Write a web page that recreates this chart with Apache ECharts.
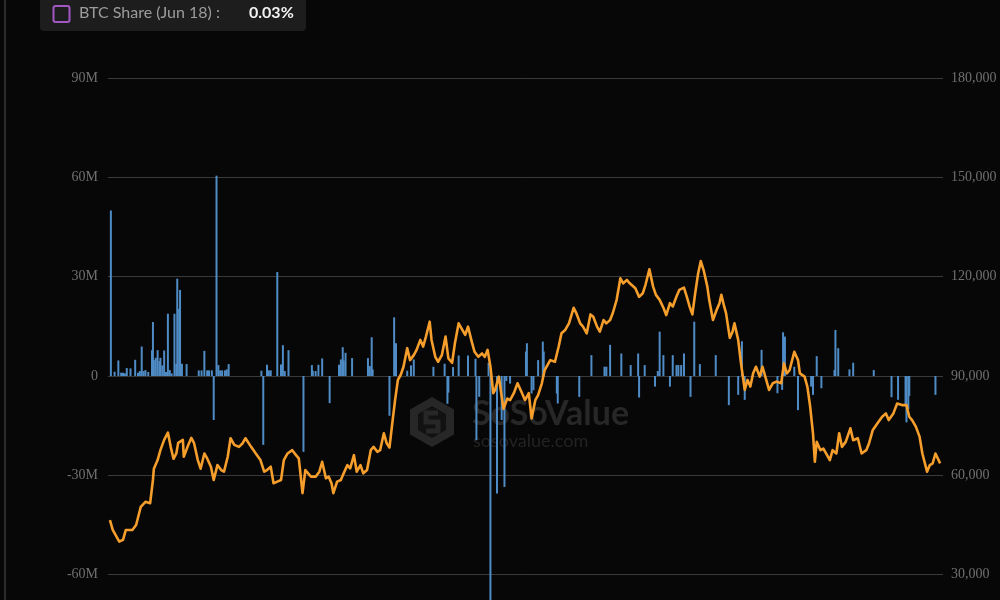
<!DOCTYPE html>
<html>
<head>
<meta charset="utf-8">
<script src="https://cdn.jsdelivr.net/npm/echarts@6/dist/echarts.min.js"></script>
<style>
  html, body { margin: 0; padding: 0; background: #070707; }
  #chart { width: 1000px; height: 600px; }
</style>
</head>
<body>
<div id="chart"></div>
<script>
// ---- data ----
const startDate = '2024-01-10';          // day 0 of the time axis
const endDay = 891;                      // axis end (2026-06-19)
// BTC price (USD), by day offset from startDate
const priceDays = [1,4,11,15,18,25,29,34,39,44,47,48,52,55,59,63,66,69,72,74,79,80,84,88,91,95,98,102,105,109,112,116,120,123,127,130,134,139,143,146,152,157,162,166,169,173,176,180,184,187,191,196,200,203,207,210,216,221,225,228,232,235,238,240,244,248,251,255,258,262,265,269,272,276,280,283,287,290,294,297,300,303,306,309,312,315,319,322,326,329,333,336,339,343,345,349,352,356,360,363,367,370,374,377,381,384,388,391,395,399,402,405,408,411,413,417,419,422,426,429,433,437,441,445,449,452,456,459,463,466,472,477,481,484,488,492,497,500,504,507,511,515,518,522,525,529,532,536,539,543,547,550,554,557,563,567,571,574,578,582,585,589,593,596,600,603,607,610,615,618,621,624,627,630,633,636,640,642,646,650,653,655,658,660,664,667,669,673,676,680,683,686,689,692,696,699,703,706,710,714,719,722,725,728,733,737,739,744,747,750,753,755,757,761,764,767,771,774,778,781,784,788,793,796,801,805,810,813,817,822,827,831,834,839,843,849,853,856,859,863,867,870,875,878,881,884,889];
const priceUSD = [46500,43500,40000,40500,43500,43500,45000,50500,52000,51600,58600,62000,64600,67600,70700,72900,68600,65000,66600,69800,70700,65600,68600,71300,69700,64600,62000,66600,65100,62600,58600,63100,61600,61100,65600,71200,69200,68600,69700,71200,68600,66600,64600,61100,61600,62600,57600,58100,58600,64600,66600,67600,66100,65100,54600,61600,59600,59600,61100,64100,59100,59600,57600,54600,58100,58600,60600,63100,62100,66100,61100,63100,60600,61600,67600,68600,67100,67600,72700,69700,68400,75700,82700,88800,90300,92800,98400,94800,96300,97900,100900,98900,101900,106400,100900,95800,94300,96300,101900,95300,94000,99900,105900,104400,102400,104900,100400,97300,95800,96800,95800,97900,92800,84800,85800,89800,85800,80100,83200,82700,84800,87800,85300,82700,84800,77200,82700,84200,87800,91800,94800,94300,98900,102900,103900,105900,110600,108900,105900,104900,102900,108600,107900,104900,103400,106900,105900,106900,109100,113000,119500,118000,119000,118000,116500,113900,115000,117700,122200,117000,114500,113000,110600,108400,112000,111000,114000,116000,116700,114000,111000,108600,115000,120700,124700,122000,117000,113000,106900,110000,112000,114500,111000,109000,101500,103400,105900,100900,93800,85800,88800,86800,90800,92800,89800,92800,88800,85800,87800,88300,87800,93800,90800,91800,97300,94800,90800,89800,86800,80700,72700,64100,70100,67600,68100,66600,64600,67600,66600,72700,68600,70100,74200,70600,71200,66600,67600,69700,73700,75700,77700,78700,76700,78700,81700,81200,81200,77700,76700,74700,71700,66600,61100,63100,63600,66600,63600];
// Daily net flow (USD millions), by day offset from startDate
const flowDays = [2,6,10,13,15,17,19,23,28,31,33,35,37,39,42,46,47,48,50,52,54,55,57,59,61,63,65,67,70,72,73,75,76,78,83,96,99,102,105,107,110,112,115,117,119,121,124,126,128,163,165,169,171,173,180,184,186,188,192,208,217,218,221,224,228,236,246,248,250,251,253,260,277,279,281,282,300,305,307,319,323,326,347,359,362,363,368,374,384,392,393,396,406,408,415,420,423,425,429,446,447,452,454,459,464,465,479,480,503,516,530,532,536,548,558,566,567,573,584,587,589,593,600,603,607,609,612,615,622,626,632,649,663,673,677,680,698,715,720,721,723,733,737,751,753,757,762,776,777,780,792,796,818,837,844,852,853,855,856,884];
const flowM = [50,1.3,4.7,1,1,0.8,2.4,2.3,4.9,1,1.5,8.9,1.5,1.8,1.2,7.8,16.3,4.8,5.5,7.8,4.5,5.5,3.2,7.7,1.2,18.8,1.8,0.8,18.8,3.7,29.4,20.3,26,3.7,3.6,1.7,1.7,7.6,1.7,1.7,1.7,-13.3,60.5,3.3,1.7,1.7,1.7,2,3.6,1.6,-20.8,3.4,1.7,1.7,31.4,3.5,9.3,1.5,7.8,-22.9,3.3,1.6,1.5,3.4,5.3,-8.2,3.4,5,8.7,4.7,7,5.4,5.4,3,11.7,2,-12,17.7,9.9,1.6,3.2,5,2.8,3.7,-8.4,-5,2.7,6.2,6.2,5.2,-19.4,-6.3,4,-85,-35.5,-13.3,-33.5,-1.5,-2.3,7.4,9.9,-5.3,-4.3,4.8,10.4,7.4,-5.3,-8.3,-6.3,6.3,2.8,2.8,9.4,6.8,3.3,6.8,-6.5,3.3,-3.2,1.5,13.4,6.3,-3.2,6.3,3.3,3.3,3.3,6.8,-6.3,16.4,3.6,6.3,-8.8,-5.7,10.5,-7.2,7.9,-5.2,-4.2,13.2,11.9,2.8,-10.3,-3.2,-5.7,6,-3.7,1.8,13.9,8.4,2,4,1.8,-6.4,-7.2,-9,-14,-10,-6,-5.7];
// tick labels / axis ranges
const flowAxis = { min: -90, max: 90, interval: 30 };
const priceAxis = { min: 0, max: 180000, interval: 30000 };
// tooltip fragment text
const shareLabel = 'BTC Share (Jun 18) :';
const shareValue = '0.03%';

// ---- build ----
const DAY = 86400000;
const t0 = Date.parse(startDate + 'T00:00:00Z');
const toTime = d => t0 + d * DAY;
const priceData = priceDays.map((d, i) => [toTime(d), priceUSD[i]]);
const flowData = flowDays.map((d, i) => [toTime(d), flowM[i]]);

const labelFont = { color: '#707070', fontFamily: 'Liberation Serif', fontSize: 14 };

const chart = echarts.init(document.getElementById('chart'), null, { renderer: 'canvas' });
chart.setOption({
  backgroundColor: '#070707',
  animation: false,
  grid: { left: 108, right: 57, top: 78, height: 596, containLabel: false, outerBoundsMode: 'none' },
  xAxis: {
    type: 'time', min: toTime(0), max: toTime(endDay), show: false
  },
  yAxis: [
    {
      type: 'value', min: flowAxis.min, max: flowAxis.max, interval: flowAxis.interval,
      axisLine: { show: false }, axisTick: { show: false },
      splitLine: { lineStyle: { color: '#3a3a3a', width: 1 } },
      axisLabel: Object.assign({ margin: 10, formatter: v => v === 0 ? '0' : v + 'M' }, labelFont)
    },
    {
      type: 'value', min: priceAxis.min, max: priceAxis.max, interval: priceAxis.interval,
      position: 'right',
      axisLine: { show: false }, axisTick: { show: false }, splitLine: { show: false },
      axisLabel: Object.assign({ margin: 8, formatter: v => v.toLocaleString('en-US') }, labelFont)
    }
  ],
  series: [
    {
      name: 'Net Flow', type: 'bar', yAxisIndex: 0, data: flowData,
      barWidth: 2, itemStyle: { color: '#4f8cc6' }, z: 2
    },
    {
      name: 'BTC Price', type: 'line', yAxisIndex: 1, data: priceData,
      showSymbol: false, symbol: 'none',
      lineStyle: { color: '#f59e2c', width: 2.6, join: 'round' }, itemStyle: { color: '#f59e2c' }, z: 3
    }
  ],
  graphic: [
    // left frame line
    { type: 'rect', left: 4, top: 0, shape: { width: 2, height: 600 }, style: { fill: '#2c2c2c' }, z: 0, silent: true },
    // watermark
    {
      type: 'group', left: 410, top: 397, z: 1, silent: true,
      children: [
        { type: 'polygon', shape: { points: [[22, 0], [44, 12.5], [44, 37.5], [22, 50], [0, 37.5], [0, 12.5]] }, style: { fill: '#272727' } },
        { type: 'polygon', shape: { points: [[22, 9], [36, 17], [36, 33], [22, 41], [8, 33], [8, 17]] }, style: { fill: '#121212' } },
        { type: 'polyline', shape: { points: [[28, 16], [16, 16], [16, 25], [28, 25], [28, 34], [16, 34]] }, style: { stroke: '#272727', lineWidth: 5, fill: null } },
        { type: 'text', left: 62, top: 0, style: { text: 'SoSoValue', font: 'bold 34px Lato', fill: '#272727' } },
        { type: 'text', left: 63, top: 35, style: { text: 'sosovalue.com', font: '18px Lato', fill: '#232323' } }
      ]
    },
    // tooltip fragment
    {
      type: 'group', left: 40, top: -8, z: 100, silent: true,
      children: [
        { type: 'rect', shape: { x: 0, y: 0, width: 266, height: 39, r: 4 }, style: { fill: '#1d1d1d' } },
        { type: 'rect', shape: { x: 13.5, y: 14, width: 16, height: 16, r: 2 }, style: { fill: 'transparent', stroke: '#a257c2', lineWidth: 2 } },
        { type: 'text', left: 39, top: 13, style: { text: shareLabel, font: '16px Lato', fill: '#9c9c9c' } },
        { type: 'text', left: 209, top: 13, style: { text: shareValue, font: 'bold 16px Lato', fill: '#f2f2f2' } }
      ]
    }
  ]
});
</script>
</body>
</html>
